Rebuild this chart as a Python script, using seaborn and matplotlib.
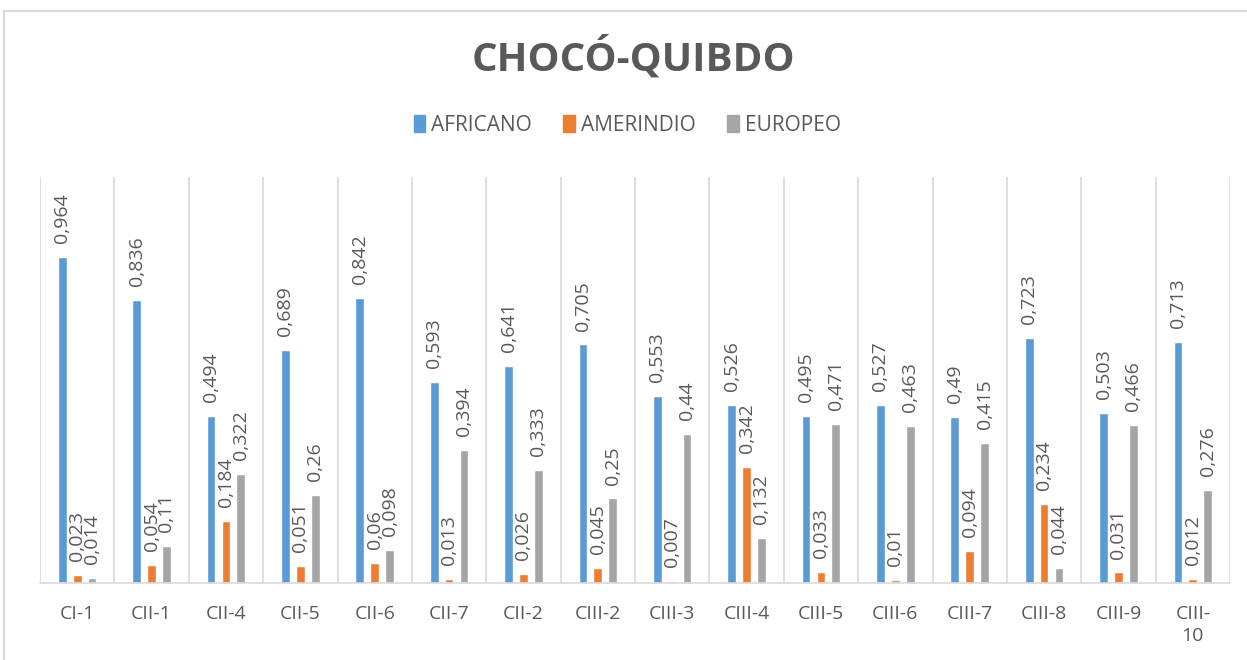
import numpy as np
import pandas as pd
import seaborn as sns
import matplotlib.pyplot as plt
from matplotlib.patches import Rectangle

# Data
categories = ["CI-1", "CII-1", "CII-4", "CII-5", "CII-6", "CII-7", "CII-2", "CIII-2",
              "CIII-3", "CIII-4", "CIII-5", "CIII-6", "CIII-7", "CIII-8", "CIII-9", "CIII-10"]
africano = [0.964, 0.836, 0.494, 0.689, 0.842, 0.593, 0.641, 0.705,
            0.553, 0.526, 0.495, 0.527, 0.49, 0.723, 0.503, 0.713]
amerindio = [0.023, 0.054, 0.184, 0.051, 0.06, 0.013, 0.026, 0.045,
             0.007, 0.342, 0.033, 0.01, 0.094, 0.234, 0.031, 0.012]
europeo = [0.014, 0.11, 0.322, 0.26, 0.098, 0.394, 0.333, 0.25,
           0.44, 0.132, 0.471, 0.463, 0.415, 0.044, 0.466, 0.276]
series = ["AFRICANO", "AMERINDIO", "EUROPEO"]
colors = ["#5B9BD5", "#ED7D31", "#A5A5A5"]
# the last label wraps in the original
tick_labels = categories[:-1] + ["CIII-\n10"]

TEXT = "#595959"
GRID = "#D9D9D9"

df = pd.DataFrame({"cat": categories, "AFRICANO": africano,
                   "AMERINDIO": amerindio, "EUROPEO": europeo})
long_df = df.melt(id_vars="cat", var_name="grupo", value_name="valor")

sns.set_style("white")
plt.rcParams["font.family"] = ["Open Sans", "DejaVu Sans"]

fig = plt.figure(figsize=(12.47, 6.6), dpi=100)
ax = fig.add_axes([0.0321, 0.1167, 0.9543, 0.6151])

sns.barplot(data=long_df, x="cat", y="valor", hue="grupo", order=categories,
            hue_order=series, palette=colors, width=0.6, saturation=1,
            ax=ax, legend=True)

# thin the bars, keep their centres
bar_w = 0.118
for cont in ax.containers:
    for p in cont:
        cx = p.get_x() + p.get_width() / 2
        p.set_width(bar_w)
        p.set_x(cx - bar_w / 2)

# rotated value labels with comma decimals
for cont, vals in zip(ax.containers, [africano, amerindio, europeo]):
    labels = [f"{v:g}".replace(".", ",") for v in vals]
    ax.bar_label(cont, labels=labels, rotation=90, padding=10,
                 fontsize=14, color=TEXT)

ax.set_ylim(0, 1.2)
ax.set_xlim(-0.5, len(categories) - 0.5)
ax.set_yticks([])
ax.set_xlabel("")
ax.set_ylabel("")
ax.set_xticks(np.arange(len(categories)))
ax.set_xticklabels(tick_labels, fontsize=14, color=TEXT, linespacing=1.25,
                   va="top")
ax.tick_params(axis="x", length=0, pad=16)

# category separators
ax.set_xticks(np.arange(len(categories) + 1) - 0.5, minor=True)
ax.tick_params(axis="x", which="minor", length=0)
ax.grid(axis="x", which="minor", color=GRID, linewidth=1.2)
ax.grid(axis="x", which="major", visible=False)

for side in ["top", "right", "left"]:
    ax.spines[side].set_visible(False)
ax.spines["bottom"].set_color(GRID)
ax.spines["bottom"].set_linewidth(1.2)

# legend at top
ax.get_legend().remove()
handles = [Rectangle((0, 0), 1, 1, color=c) for c in colors]
fig.legend(handles, series, loc="center", bbox_to_anchor=(0.503, 0.81), ncol=3,
           frameon=False, fontsize=15, labelcolor=TEXT, handlelength=0.55,
           handleheight=0.85, handletextpad=0.3, columnspacing=1.5)

fig.text(0.508, 0.912, "CHOCÓ-QUIBDO", ha="center", va="center",
         fontsize=29, fontweight="bold", color=TEXT)

# outer chart border
fig.add_artist(Rectangle((4 / 1247, -0.01), 1.0, (660 - 11) / 660 + 0.01,
                         transform=fig.transFigure, fill=False,
                         edgecolor=GRID, linewidth=1.5, clip_on=False))

fig.savefig("out.png", dpi=100, facecolor="white")
